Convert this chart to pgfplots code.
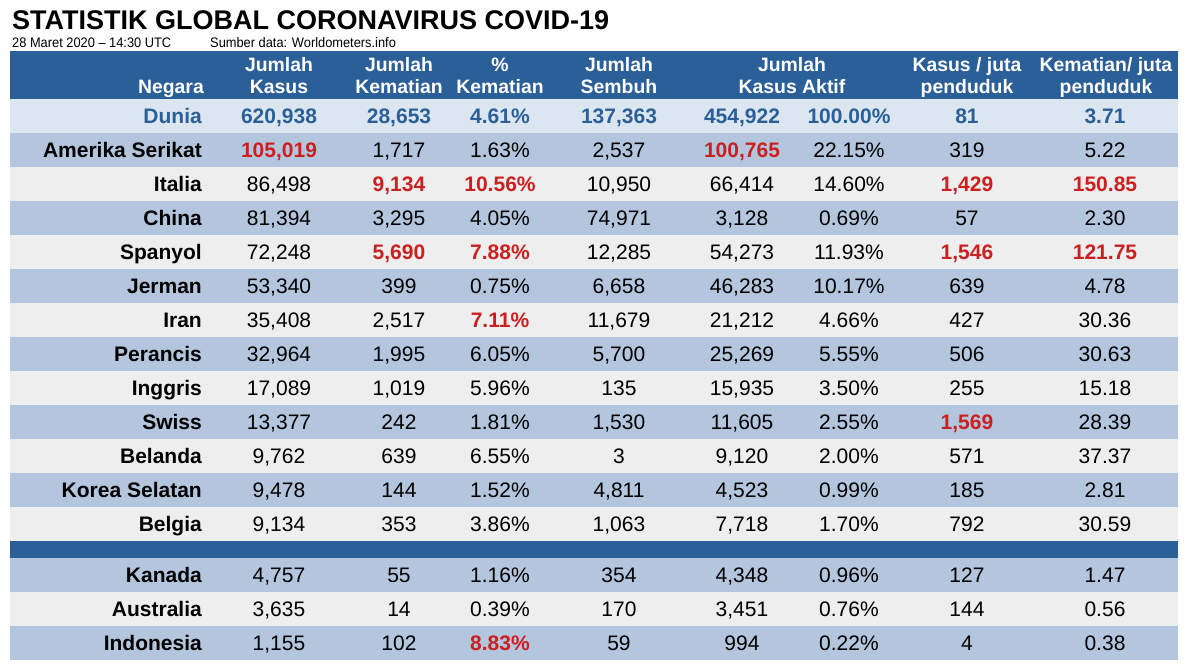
\documentclass[border=0pt]{standalone}
\usepackage{pgfplots}
\pgfplotsset{compat=1.18}
\usepackage{pgfplotstable}
\usepackage{fontspec}
\setmainfont{Liberation Sans}
\newfontfamily\narrowfont[FakeStretch=0.93]{Liberation Sans}
\definecolor{hdr}{RGB}{43,95,152}
\definecolor{dunia}{RGB}{220,230,241}
\definecolor{rowb}{RGB}{180,198,221}
\definecolor{rowg}{RGB}{238,238,238}
\definecolor{hired}{RGB}{204,32,32}
\protected\def\R#1{{\bfseries\color{hired}#1}}
\protected\def\B#1{{\bfseries\color{hdr}#1}}
\newcommand\bodyfont{\fontsize{21bp}{25bp}\selectfont}
\newcommand\hdrfont{\fontsize{19.4bp}{23bp}\selectfont\bfseries}

\pgfplotstableread{
y n c1 c2 c3 c4 c5 c6 c7 c8
123.5 {\B{Dunia}} {\B{620,938}} {\B{28,653}} {\B{4.61\%}} {\B{137,363}} {\B{454,922}} {\B{100.00\%}} {\B{81}} {\B{3.71}}
157.5 {Amerika Serikat} {\R{105,019}} 1,717 1.63\% 2,537 {\R{100,765}} 22.15\% 319 5.22
191.5 Italia 86,498 {\R{9,134}} {\R{10.56\%}} 10,950 66,414 14.60\% {\R{1,429}} {\R{150.85}}
225.5 China 81,394 3,295 4.05\% 74,971 3,128 0.69\% 57 2.30
259.5 Spanyol 72,248 {\R{5,690}} {\R{7.88\%}} 12,285 54,273 11.93\% {\R{1,546}} {\R{121.75}}
293.5 Jerman 53,340 399 0.75\% 6,658 46,283 10.17\% 639 4.78
327.5 Iran 35,408 2,517 {\R{7.11\%}} 11,679 21,212 4.66\% 427 30.36
361.5 Perancis 32,964 1,995 6.05\% 5,700 25,269 5.55\% 506 30.63
395.5 Inggris 17,089 1,019 5.96\% 135 15,935 3.50\% 255 15.18
429.5 Swiss 13,377 242 1.81\% 1,530 11,605 2.55\% {\R{1,569}} 28.39
463.5 Belanda 9,762 639 6.55\% 3 9,120 2.00\% 571 37.37
497.5 {Korea Selatan} 9,478 144 1.52\% 4,811 4,523 0.99\% 185 2.81
531.5 Belgia 9,134 353 3.86\% 1,063 7,718 1.70\% 792 30.59
582.5 Kanada 4,757 55 1.16\% 354 4,348 0.96\% 127 1.47
616.5 Australia 3,635 14 0.39\% 170 3,451 0.76\% 144 0.56
650.5 Indonesia 1,155 102 {\R{8.83\%}} 59 994 0.22\% 4 0.38
}\datatable

\pgfplotstableread{
x y t
279 71 Jumlah
279 93 Kasus
399 71 Jumlah
399 93 Kematian
500 71 \%
500 93 Kematian
619 71 Jumlah
619 93 Sembuh
792 71 Jumlah
792 93 {Kasus Aktif}
967 71 {Kasus / juta}
967 93 penduduk
1106 71 {Kematian/ juta}
1106 93 penduduk
}\headtable

\newcommand\band[3]{\addplot[fill=#3, draw=none, forget plot] coordinates {(10,#1) (1178,#1) (1178,#2) (10,#2)} -- cycle;}

\pgfplotsset{
  txt/.style={only marks, mark=none, forget plot, nodes near coords, point meta=explicit symbolic},
  valcol/.style={txt, nodes near coords style={anchor=base, inner sep=0pt, font=\bodyfont, text=black}},
}

\begin{document}
\begin{tikzpicture}
\path[use as bounding box] (0,0) rectangle (1191bp,670bp);
\begin{axis}[
  at={(0,0)}, anchor=south west,
  width=1191bp, height=670bp, scale only axis,
  xmin=0, xmax=1191, ymin=0, ymax=670, y dir=reverse,
  hide axis, clip=false,
]
% background bands
\band{51}{99}{hdr}
\band{99}{133}{dunia}
\band{133}{167}{rowb}
\band{167}{201}{rowg}
\band{201}{235}{rowb}
\band{235}{269}{rowg}
\band{269}{303}{rowb}
\band{303}{337}{rowg}
\band{337}{371}{rowb}
\band{371}{405}{rowg}
\band{405}{439}{rowb}
\band{439}{473}{rowg}
\band{473}{507}{rowb}
\band{507}{541}{rowg}
\band{541}{558}{hdr}
\band{558}{592}{rowb}
\band{592}{626}{rowg}
\band{626}{660}{rowb}

% title and subtitle
\addplot[txt, nodes near coords style={anchor=base west, inner sep=0pt, font=\fontsize{27bp}{30bp}\selectfont\bfseries}]
  coordinates {(12,29) [STATISTIK GLOBAL CORONAVIRUS COVID-19]};
\addplot[txt, nodes near coords style={anchor=base west, inner sep=0pt, font=\narrowfont\fontsize{13.8bp}{16bp}\selectfont}]
  coordinates {(12,47.5) [28 Maret 2020 – 14:30 UTC]};
\addplot[txt, nodes near coords style={anchor=base west, inner sep=0pt, font=\narrowfont\fontsize{13.8bp}{16bp}\selectfont}]
  coordinates {(210,47.5) [Sumber data: Worldometers.info]};

% header
\addplot[txt, nodes near coords style={anchor=base, inner sep=0pt, font=\hdrfont, text=white}]
  table[x=x, y=y, meta=t] \headtable;
\addplot[txt, nodes near coords style={anchor=base east, inner sep=0pt, font=\hdrfont, text=white}]
  coordinates {(204,93) [Negara]};

% country names
\addplot[txt, nodes near coords style={anchor=base east, inner sep=0pt, font=\bodyfont\bfseries, text=black}]
  table[x expr=202, y=y, meta=n] \datatable;
% value columns
\addplot[valcol] table[x expr=279, y=y, meta=c1] \datatable;
\addplot[valcol] table[x expr=399, y=y, meta=c2] \datatable;
\addplot[valcol] table[x expr=500, y=y, meta=c3] \datatable;
\addplot[valcol] table[x expr=619, y=y, meta=c4] \datatable;
\addplot[valcol] table[x expr=742, y=y, meta=c5] \datatable;
\addplot[valcol] table[x expr=849, y=y, meta=c6] \datatable;
\addplot[valcol] table[x expr=967, y=y, meta=c7] \datatable;
\addplot[valcol] table[x expr=1105, y=y, meta=c8] \datatable;
\end{axis}
\end{tikzpicture}
\end{document}
